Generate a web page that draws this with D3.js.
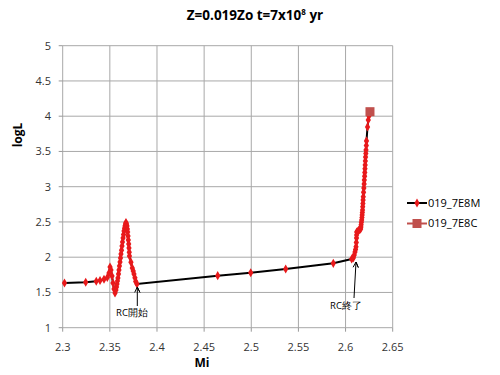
<!DOCTYPE html>
<html><head><meta charset="utf-8">
<script src="https://cdn.jsdelivr.net/npm/d3@7"></script>
<style>body{margin:0;background:#fff;} text{font-family:"Open Sans","Noto Sans",sans-serif;}</style>
</head><body>
<script>
const mX = [2.3019,2.3244,2.3356,2.3396,2.3438,2.3473,2.3491,2.3502,2.3512,2.3523,2.3533,2.3544,2.3555,2.3565,2.3571,2.3576,2.3581,2.3586,2.3592,2.3597,2.3602,2.3608,2.3613,2.3618,2.3624,2.3629,2.3634,2.3640,2.3645,2.3650,2.3656,2.3661,2.3666,2.3671,2.3677,2.3682,2.3686,2.3689,2.3693,2.3696,2.3700,2.3703,2.3706,2.3708,2.3724,2.3738,2.3748,2.3756,2.3766,2.3774,2.3788,
  2.4644,2.4994,2.5365,2.5870,2.6065,2.6082,2.6092,2.6100,2.6106,2.6111,2.6114,2.6116,2.6117,2.6118,2.6130,2.6140,2.6150,2.6160,2.6163,2.6165,2.6168,2.6171,2.6174,2.6176,2.6178,2.6180,2.6182,2.6184,2.6186,2.6188,2.6191,2.6194,2.6197,2.6199,2.6202,2.6204,2.6206,2.6208,2.6210,2.6212,2.6215,2.6217,2.6220,2.6222,2.6233,2.6241,2.6248];
const mY = [1.634,1.644,1.658,1.670,1.687,1.712,1.776,1.861,1.818,1.733,1.634,1.549,1.492,1.535,1.578,1.620,1.662,1.705,1.760,1.818,1.875,1.932,1.990,2.045,2.100,2.159,2.215,2.272,2.322,2.372,2.410,2.443,2.470,2.492,2.470,2.443,2.400,2.357,2.300,2.244,2.187,2.130,2.070,2.017,1.930,1.847,1.805,1.762,1.708,1.655,1.620,
  1.738,1.780,1.833,1.913,1.975,1.990,2.030,2.074,2.110,2.149,2.210,2.272,2.315,2.357,2.368,2.380,2.390,2.400,2.430,2.460,2.494,2.528,2.564,2.600,2.635,2.670,2.715,2.760,2.810,2.858,2.920,2.980,3.040,3.095,3.150,3.200,3.255,3.308,3.365,3.420,3.470,3.520,3.585,3.650,3.847,3.946,4.003];
const cX = [2.6259];
const cY = [4.064];
const xTicks = [2.3,2.35,2.4,2.45,2.5,2.55,2.6,2.65];
const yTicks = [1,1.5,2,2.5,3,3.5,4,4.5,5];
const seriesNames = ["019_7E8M","019_7E8C"];

const W=500,H=375;
const svg=d3.select("body").append("svg").attr("width",W).attr("height",H);
const x=d3.scaleLinear().domain([2.3,2.65]).range([62.7,392.7]);
const y=d3.scaleLinear().domain([1,5]).range([327.7,45.7]);

// grid
svg.append("g").selectAll("line").data(xTicks).join("line")
  .attr("x1",d=>x(d)).attr("x2",d=>x(d)).attr("y1",y(1)).attr("y2",y(5))
  .attr("stroke","#a8a8a8").attr("stroke-width",1);
svg.append("g").selectAll("line").data(yTicks).join("line")
  .attr("x1",x(2.3)).attr("x2",x(2.65)).attr("y1",d=>y(d)).attr("y2",d=>y(d))
  .attr("stroke","#a8a8a8").attr("stroke-width",1);
// axis ticks
svg.append("g").selectAll("line").data(yTicks).join("line")
  .attr("x1",x(2.3)-4).attr("x2",x(2.3)).attr("y1",d=>y(d)).attr("y2",d=>y(d)).attr("stroke","#999");
svg.append("g").selectAll("line").data(xTicks).join("line")
  .attr("x1",d=>x(d)).attr("x2",d=>x(d)).attr("y1",y(1)).attr("y2",y(1)+4).attr("stroke","#999");

// tick labels
svg.append("g").selectAll("text").data(yTicks).join("text")
  .attr("x",51).attr("y",d=>y(d)).attr("dy","0.35em").attr("text-anchor","end")
  .attr("font-size",11).attr("fill","#333").text(d=>d);
svg.append("g").selectAll("text").data(xTicks).join("text")
  .attr("x",d=>x(d)).attr("y",347.5).attr("dy","0.35em").attr("text-anchor","middle")
  .attr("font-size",11).attr("fill","#333").text(d=>d);

// axis titles
svg.append("text").attr("x",202).attr("y",363).attr("dy","0.35em").attr("text-anchor","middle")
  .attr("font-size",12).attr("font-weight","bold").text("Mi");
svg.append("text").attr("transform","translate(18,135) rotate(-90)").attr("dy","0.35em").attr("text-anchor","middle")
  .attr("font-size",12).attr("font-weight","bold").text("logL");
const t=svg.append("text").attr("x",255).attr("y",20).attr("text-anchor","middle")
  .attr("font-size",13.5).attr("font-weight","bold");
t.append("tspan").text("Z=0.019Zo t=7x10");
t.append("tspan").attr("dy",-5).attr("font-size",8).text("8");
t.append("tspan").attr("dy",5).text(" yr");

// series M
const mData=mX.map((d,i)=>[d,mY[i]]);
svg.append("path").datum(mData).attr("fill","none").attr("stroke","#000").attr("stroke-width",2)
  .attr("d",d3.line().x(d=>x(d[0])).y(d=>y(d[1])));
const diamond=d3.symbol().type(d3.symbolDiamond).size(24);
svg.append("g").selectAll("path").data(mData).join("path")
  .attr("transform",d=>`translate(${x(d[0])},${y(d[1])})`).attr("d",diamond).attr("fill","#e8191b");
// series C
const cData=cX.map((d,i)=>[d,cY[i]]);
svg.append("g").selectAll("rect").data(cData).join("rect")
  .attr("x",d=>x(d[0])-4.5).attr("y",d=>y(d[1])-4.5).attr("width",9).attr("height",9).attr("fill","#c0504d");

// annotations
function arrow(x0,y0,x1,y1){
  svg.append("line").attr("x1",x0).attr("y1",y0).attr("x2",x1).attr("y2",y1).attr("stroke","#000").attr("stroke-width",1);
  const a=Math.atan2(y1-y0,x1-x0), L=6;
  const p=[[x1,y1],[x1-L*Math.cos(a-0.45),y1-L*Math.sin(a-0.45)],[x1,y1],[x1-L*Math.cos(a+0.45),y1-L*Math.sin(a+0.45)]];
  svg.append("path").attr("d",d3.line()(p)).attr("stroke","#000").attr("fill","none").attr("stroke-width",1);
}
arrow(137.3,306,137.3,287);
svg.append("text").attr("x",132).attr("y",313).attr("dy","0.35em").attr("text-anchor","middle")
  .attr("font-size",9.5).attr("font-family","Noto Sans CJK JP").text("RC開始");
arrow(354,298,356,262);
svg.append("text").attr("x",346).attr("y",306).attr("dy","0.35em").attr("text-anchor","middle")
  .attr("font-size",9.5).attr("font-family","Noto Sans CJK JP").text("RC終了");

// legend
const lg=svg.append("g");
lg.append("line").attr("x1",407).attr("x2",427).attr("y1",203).attr("y2",203).attr("stroke","#000").attr("stroke-width",2);
lg.append("path").attr("transform","translate(417,203)").attr("d",diamond).attr("fill","#e8191b");
lg.append("text").attr("x",428).attr("y",203).attr("dy","0.35em").attr("font-size",11).text(seriesNames[0]);
lg.append("line").attr("x1",407).attr("x2",427).attr("y1",223.5).attr("y2",223.5).attr("stroke","#c0504d").attr("stroke-width",2);
lg.append("rect").attr("x",412.5).attr("y",219).attr("width",9).attr("height",9).attr("fill","#c0504d");
lg.append("text").attr("x",428).attr("y",223.5).attr("dy","0.35em").attr("font-size",11).text(seriesNames[1]);
</script>
</body></html>
